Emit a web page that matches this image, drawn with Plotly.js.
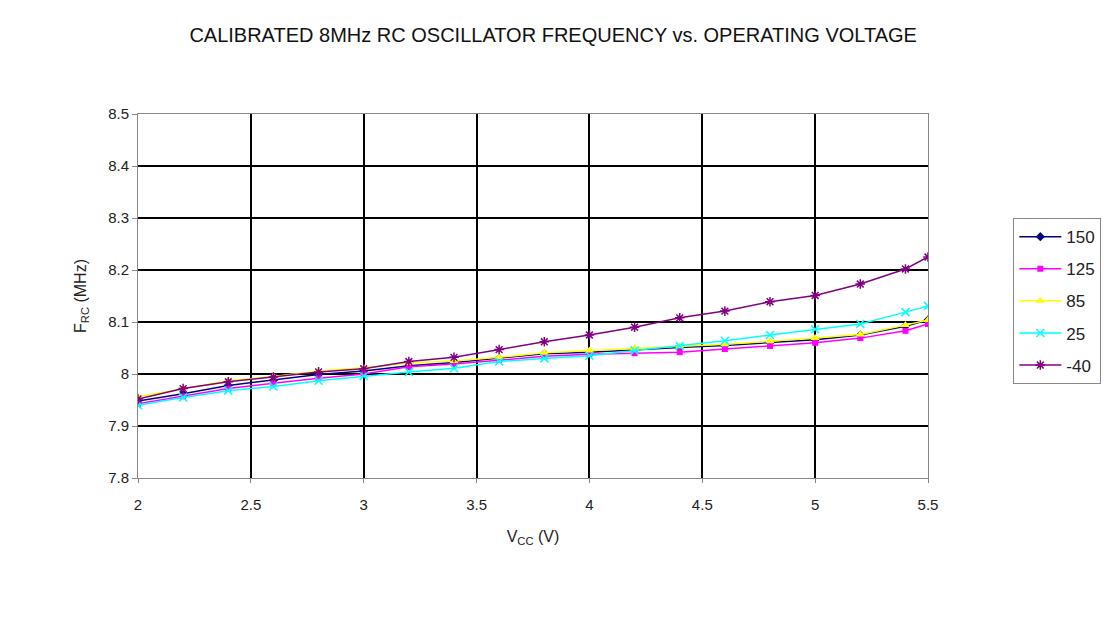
<!DOCTYPE html>
<html>
<head>
<meta charset="utf-8">
<script src="https://cdn.plot.ly/plotly-3.0.1.min.js"></script>
<style>html,body{margin:0;padding:0;background:#fff;}#chart{width:1113px;height:644px;}</style>
</head>
<body>
<div id="chart"></div>
<script>
const vcc = [2.0, 2.2, 2.4, 2.6, 2.8, 3.0, 3.2, 3.4, 3.6, 3.8, 4.0, 4.2, 4.4, 4.6, 4.8, 5.0, 5.2, 5.4, 5.5];
const f150 = [7.948, 7.962, 7.978, 7.988, 7.999, 8.006, 8.016, 8.022, 8.030, 8.039, 8.042, 8.047, 8.051, 8.055, 8.060, 8.066, 8.075, 8.092, 8.104];
const f125 = [7.943, 7.957, 7.972, 7.982, 7.992, 8.000, 8.014, 8.019, 8.027, 8.034, 8.038, 8.040, 8.042, 8.048, 8.054, 8.060, 8.069, 8.083, 8.096];
const f85  = [7.956, 7.972, 7.987, 7.995, 8.006, 8.012, 8.021, 8.025, 8.032, 8.041, 8.045, 8.050, 8.053, 8.057, 8.063, 8.069, 8.076, 8.094, 8.104];
const f25  = [7.940, 7.955, 7.968, 7.976, 7.987, 7.996, 8.004, 8.011, 8.024, 8.030, 8.035, 8.045, 8.054, 8.064, 8.075, 8.086, 8.096, 8.119, 8.131];
const fm40 = [7.952, 7.972, 7.985, 7.994, 8.004, 8.010, 8.024, 8.032, 8.047, 8.062, 8.075, 8.090, 8.108, 8.121, 8.139, 8.151, 8.173, 8.202, 8.225];
const seriesNames = ['150', '125', '85', '25', '-40'];
const xTicks = [2, 2.5, 3, 3.5, 4, 4.5, 5, 5.5];
const xTickText = ['2', '2.5', '3', '3.5', '4', '4.5', '5', '5.5'];
const yTicks = [7.8, 7.9, 8.0, 8.1, 8.2, 8.3, 8.4, 8.5];
const yTickText = ['7.8', '7.9', '8', '8.1', '8.2', '8.3', '8.4', '8.5'];
const xGrid = [2.5, 3, 3.5, 4, 4.5, 5];
const yGrid = [7.9, 8.0, 8.1, 8.2, 8.3, 8.4];

const FONT = 'Liberation Sans, Arial, sans-serif';
const styles = [
  {color: '#000080', symbol: 'diamond', size: 7, lw: 0},
  {color: '#FF00FF', symbol: 'square', size: 6, lw: 0},
  {color: '#FFFF00', symbol: 'triangle-up', size: 8, lw: 0},
  {color: '#00FFFF', symbol: 'x-thin', size: 8, lw: 1.5},
  {color: '#800080', symbol: 'asterisk', size: 8, lw: 1.5}
];
const ys = [f150, f125, f85, f25, fm40];
// empty helper trace so the labelled base axes are drawn
const axisHolder = {type: 'scatter', mode: 'lines', x: [], y: [], xaxis: 'x', yaxis: 'y',
                    showlegend: false, hoverinfo: 'skip'};
const traces = [axisHolder].concat(ys.map((y, i) => ({
  type: 'scatter', mode: 'lines+markers',
  x: vcc, y: y, name: seriesNames[i],
  xaxis: 'x2', yaxis: 'y2',
  legendgroup: 'g' + i,
  line: {color: styles[i].color, width: 1.5},
  marker: {color: styles[i].color, symbol: styles[i].symbol, size: styles[i].size,
           line: {color: styles[i].color, width: styles[i].lw}}
})));

const layout = {
  width: 1113, height: 644,
  margin: {l: 138, r: 185, t: 114, b: 166},
  paper_bgcolor: '#fff', plot_bgcolor: '#fff',
  font: {family: FONT, color: '#222', size: 15},
  title: {text: 'CALIBRATED 8MHz RC OSCILLATOR FREQUENCY vs. OPERATING VOLTAGE',
          font: {family: FONT, size: 20, color: '#111'},
          x: 0.497, xanchor: 'center', y: 0.945, yanchor: 'middle'},
  xaxis: {range: [2, 5.5], tickmode: 'array', tickvals: xTicks, ticktext: xTickText,
          showgrid: false, zeroline: false, showline: true, linecolor: '#888', linewidth: 1,
          mirror: true, ticks: 'outside', ticklen: 4, tickcolor: '#888', ticklabelstandoff: 9,
          tickfont: {size: 15, color: '#222'},
          title: {text: 'V<sub>CC</sub> (V)', font: {size: 16, color: '#222'}, standoff: 18}},
  yaxis: {range: [7.8, 8.5], tickmode: 'array', tickvals: yTicks, ticktext: yTickText,
          showgrid: false, zeroline: false, showline: true, linecolor: '#888', linewidth: 1,
          mirror: true, ticks: 'outside', ticklen: 5, tickcolor: '#888',
          tickfont: {size: 15, color: '#222'},
          title: {text: 'F<sub>RC</sub> (MHz)', font: {size: 16, color: '#222'}, standoff: 17}},
  xaxis2: {overlaying: 'x', anchor: 'y2', range: [2, 5.5], tickmode: 'array', tickvals: xGrid,
           showticklabels: false, ticks: '', showgrid: true, gridcolor: '#000', gridwidth: 2,
           zeroline: false, showline: false},
  yaxis2: {overlaying: 'y', anchor: 'x2', range: [7.8, 8.5], tickmode: 'array', tickvals: yGrid,
           showticklabels: false, ticks: '', showgrid: true, gridcolor: '#000', gridwidth: 2,
           zeroline: false, showline: false},
  showlegend: true,
  legend: {x: 1.108, xanchor: 'left', y: 0.714, yanchor: 'top', itemwidth: 42,
           bordercolor: '#888', borderwidth: 1, bgcolor: '#fff',
           font: {size: 17, color: '#222'}, traceorder: 'grouped', tracegroupgap: 7}
};

Plotly.newPlot('chart', traces, layout, {displayModeBar: false, staticPlot: true});
</script>
</body>
</html>
